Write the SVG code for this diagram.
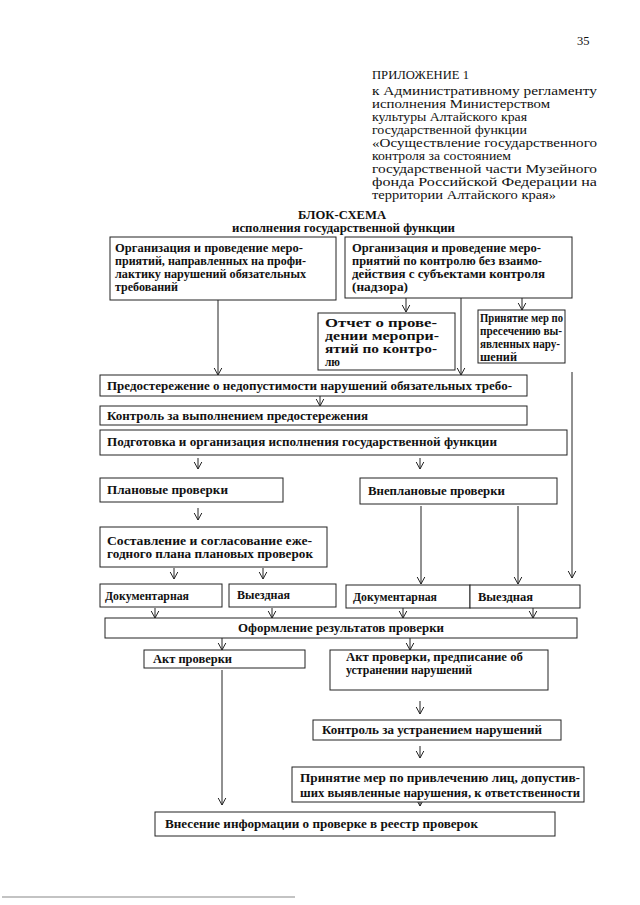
<svg xmlns="http://www.w3.org/2000/svg" width="640" height="905" viewBox="0 0 640 905">
<style>
.hd{font-family:"Liberation Serif","Times New Roman",serif;font-size:12.5px;fill:#111}
.t{font-family:"Liberation Serif","Times New Roman",serif;font-size:12px;font-weight:bold;fill:#111}
.box{fill:#fff;stroke:#222;stroke-width:1}
.cn{stroke:#222;stroke-width:1;fill:none;marker-end:url(#ah)}
</style>
<defs>
<marker id="ah" markerWidth="10" markerHeight="10" refX="8" refY="5" orient="auto" markerUnits="userSpaceOnUse" viewBox="0 0 10 10">
<path d="M1,1.2 L8,5 L1,8.8" fill="none" stroke="#222" stroke-width="1"/>
</marker>
</defs>
<rect width="640" height="905" fill="#fff"/>
<g id="header">
<text class="hd" x="577" y="45" font-size="15">35</text>
<text class="hd" x="372" y="79" font-size="16.5" textLength="97" lengthAdjust="spacingAndGlyphs">ПРИЛОЖЕНИЕ 1</text>
<text class="hd" x="372" y="95" textLength="225" lengthAdjust="spacingAndGlyphs">к Административному регламенту</text>
<text class="hd" x="372" y="108" textLength="178" lengthAdjust="spacingAndGlyphs">исполнения Министерством</text>
<text class="hd" x="372" y="121" textLength="155" lengthAdjust="spacingAndGlyphs">культуры Алтайского края</text>
<text class="hd" x="372" y="134" textLength="155" lengthAdjust="spacingAndGlyphs">государственной функции</text>
<text class="hd" x="372" y="147" textLength="225" lengthAdjust="spacingAndGlyphs">«Осуществление государственного</text>
<text class="hd" x="372" y="160" textLength="139" lengthAdjust="spacingAndGlyphs">контроля за состоянием</text>
<text class="hd" x="372" y="173" textLength="225" lengthAdjust="spacingAndGlyphs">государственной части Музейного</text>
<text class="hd" x="372" y="186" textLength="225" lengthAdjust="spacingAndGlyphs">фонда Российской Федерации на</text>
<text class="hd" x="372" y="199" textLength="184" lengthAdjust="spacingAndGlyphs">территории Алтайского края»</text>
<text class="t" x="298" y="219" font-size="13" textLength="88" lengthAdjust="spacingAndGlyphs">БЛОК-СХЕМА</text>
<text class="t" x="232" y="232" font-size="11.5" textLength="223" lengthAdjust="spacingAndGlyphs">исполнения государственной функции</text>
</g>
<g id="connectors">
<line class="cn" x1="218" y1="300" x2="218" y2="375"/>
<line class="cn" x1="406" y1="298" x2="406" y2="312"/>
<line class="cn" x1="522" y1="298" x2="522" y2="310"/>
<line class="cn" x1="461" y1="298" x2="461" y2="375"/>
<line class="cn" x1="572" y1="372" x2="572" y2="578"/>
<line class="cn" x1="320" y1="396" x2="320" y2="406"/>
<line class="cn" x1="198" y1="458" x2="198" y2="469"/>
<line class="cn" x1="420" y1="458" x2="420" y2="469"/>
<line class="cn" x1="198" y1="508" x2="198" y2="520"/>
<line class="cn" x1="174" y1="568" x2="174" y2="579"/>
<line class="cn" x1="263" y1="568" x2="263" y2="579"/>
<line class="cn" x1="421" y1="506" x2="421" y2="584"/>
<line class="cn" x1="518" y1="506" x2="518" y2="584"/>
<line class="cn" x1="155" y1="608" x2="155" y2="618"/>
<line class="cn" x1="272" y1="608" x2="272" y2="618"/>
<line class="cn" x1="403" y1="608" x2="403" y2="618"/>
<line class="cn" x1="533" y1="608" x2="533" y2="618"/>
<line class="cn" x1="222" y1="638" x2="222" y2="650"/>
<line class="cn" x1="410" y1="638" x2="410" y2="650"/>
<line class="cn" x1="420" y1="701" x2="420" y2="714"/>
<line class="cn" x1="420" y1="746" x2="420" y2="758"/>
<line class="cn" x1="420" y1="793" x2="420" y2="806"/>
<line class="cn" x1="222" y1="670" x2="222" y2="805"/>
</g>
<g id="n1"><rect class="box" x="110" y="237" width="226" height="63"/>
<text class="t" x="115" y="252" textLength="188" lengthAdjust="spacingAndGlyphs">Организация и проведение меро-</text>
<text class="t" x="115" y="265" textLength="191" lengthAdjust="spacingAndGlyphs">приятий, направленных на профи-</text>
<text class="t" x="115" y="278" textLength="191" lengthAdjust="spacingAndGlyphs">лактику нарушений обязательных</text>
<text class="t" x="115" y="291" textLength="63" lengthAdjust="spacingAndGlyphs">требований</text></g>
<g id="n2"><rect class="box" x="345" y="237" width="227" height="61"/>
<text class="t" x="352" y="252" textLength="189" lengthAdjust="spacingAndGlyphs">Организация и проведение меро-</text>
<text class="t" x="352" y="265" textLength="190" lengthAdjust="spacingAndGlyphs">приятий по контролю без взаимо-</text>
<text class="t" x="352" y="278" textLength="193" lengthAdjust="spacingAndGlyphs">действия с субъектами контроля</text>
<text class="t" x="352" y="291" textLength="56" lengthAdjust="spacingAndGlyphs">(надзора)</text></g>
<g id="n3"><rect class="box" x="318" y="313" width="137" height="57"/>
<text class="t" x="325" y="327" textLength="112" lengthAdjust="spacingAndGlyphs">Отчет о прове-</text>
<text class="t" x="325" y="340" textLength="114" lengthAdjust="spacingAndGlyphs">дении меропри-</text>
<text class="t" x="325" y="353" textLength="112" lengthAdjust="spacingAndGlyphs">ятий по контро-</text>
<text class="t" x="325" y="366" textLength="15" lengthAdjust="spacingAndGlyphs">лю</text></g>
<g id="n4"><rect class="box" x="478" y="310" width="87" height="53"/>
<text class="t" x="480" y="322" font-size="11.5" textLength="83" lengthAdjust="spacingAndGlyphs">Принятие мер по</text>
<text class="t" x="480" y="335" font-size="11.5" textLength="82" lengthAdjust="spacingAndGlyphs">пресечению вы-</text>
<text class="t" x="480" y="348" font-size="11.5" textLength="80" lengthAdjust="spacingAndGlyphs">явленных нару-</text>
<text class="t" x="480" y="361" font-size="11.5" textLength="37" lengthAdjust="spacingAndGlyphs">шений</text></g>
<g id="n5"><rect class="box" x="100" y="375" width="427" height="21"/>
<text class="t" x="107" y="390" textLength="405" lengthAdjust="spacingAndGlyphs">Предостережение о недопустимости нарушений обязательных требо-</text></g>
<g id="n6"><rect class="box" x="100" y="406" width="427" height="19"/>
<text class="t" x="107" y="420" textLength="261" lengthAdjust="spacingAndGlyphs">Контроль за выполнением предостережения</text></g>
<g id="n7"><rect class="box" x="100" y="430" width="467" height="25"/>
<text class="t" x="107" y="446" textLength="390" lengthAdjust="spacingAndGlyphs">Подготовка и организация исполнения государственной функции</text></g>
<g id="n8"><rect class="box" x="100" y="478" width="183" height="24"/>
<text class="t" x="107" y="494" textLength="121" lengthAdjust="spacingAndGlyphs">Плановые проверки</text></g>
<g id="n9"><rect class="box" x="360" y="478" width="197" height="26"/>
<text class="t" x="368" y="495" textLength="137" lengthAdjust="spacingAndGlyphs">Внеплановые проверки</text></g>
<g id="n10"><rect class="box" x="100" y="527" width="227" height="40"/>
<text class="t" x="107" y="545" textLength="205" lengthAdjust="spacingAndGlyphs">Составление и согласование еже-</text>
<text class="t" x="107" y="558" textLength="206" lengthAdjust="spacingAndGlyphs">годного плана плановых проверок</text></g>
<g id="n11"><rect class="box" x="100" y="584" width="122" height="23"/>
<text class="t" x="105" y="600" textLength="84" lengthAdjust="spacingAndGlyphs">Документарная</text></g>
<g id="n12"><rect class="box" x="229" y="584" width="107" height="23"/>
<text class="t" x="237" y="599" textLength="53" lengthAdjust="spacingAndGlyphs">Выездная</text></g>
<g id="n13"><rect class="box" x="346" y="585" width="124" height="23"/>
<text class="t" x="353" y="601" textLength="84" lengthAdjust="spacingAndGlyphs">Документарная</text></g>
<g id="n14"><rect class="box" x="470" y="585" width="110" height="23"/>
<text class="t" x="478" y="601" textLength="55" lengthAdjust="spacingAndGlyphs">Выездная</text></g>
<g id="n15"><rect class="box" x="105" y="618" width="472" height="20"/>
<text class="t" x="238" y="632" textLength="206" lengthAdjust="spacingAndGlyphs">Оформление результатов проверки</text></g>
<g id="n16"><rect class="box" x="144" y="650" width="161" height="18"/>
<text class="t" x="153" y="663" textLength="79" lengthAdjust="spacingAndGlyphs">Акт проверки</text></g>
<g id="n17"><rect class="box" x="330" y="650" width="218" height="40"/>
<text class="t" x="346" y="661" textLength="177" lengthAdjust="spacingAndGlyphs">Акт проверки, предписание об</text>
<text class="t" x="346" y="674" textLength="126" lengthAdjust="spacingAndGlyphs">устранении нарушений</text></g>
<g id="n18"><rect class="box" x="313" y="720" width="248" height="20"/>
<text class="t" x="322" y="734" textLength="220" lengthAdjust="spacingAndGlyphs">Контроль за устранением нарушений</text></g>
<g id="n19"><rect class="box" x="292" y="767" width="292" height="35"/>
<text class="t" x="300" y="782" textLength="280" lengthAdjust="spacingAndGlyphs">Принятие мер по привлечению лиц, допустив-</text>
<text class="t" x="300" y="797" textLength="280" lengthAdjust="spacingAndGlyphs">ших выявленные нарушения, к ответственности</text></g>
<g id="n20"><rect class="box" x="155" y="812" width="400" height="24"/>
<text class="t" x="165" y="828" textLength="313" lengthAdjust="spacingAndGlyphs">Внесение информации о проверке в реестр проверок</text></g>
<line x1="2" y1="897" x2="295" y2="897" stroke="#888" stroke-width="1.2"/>
</svg>
